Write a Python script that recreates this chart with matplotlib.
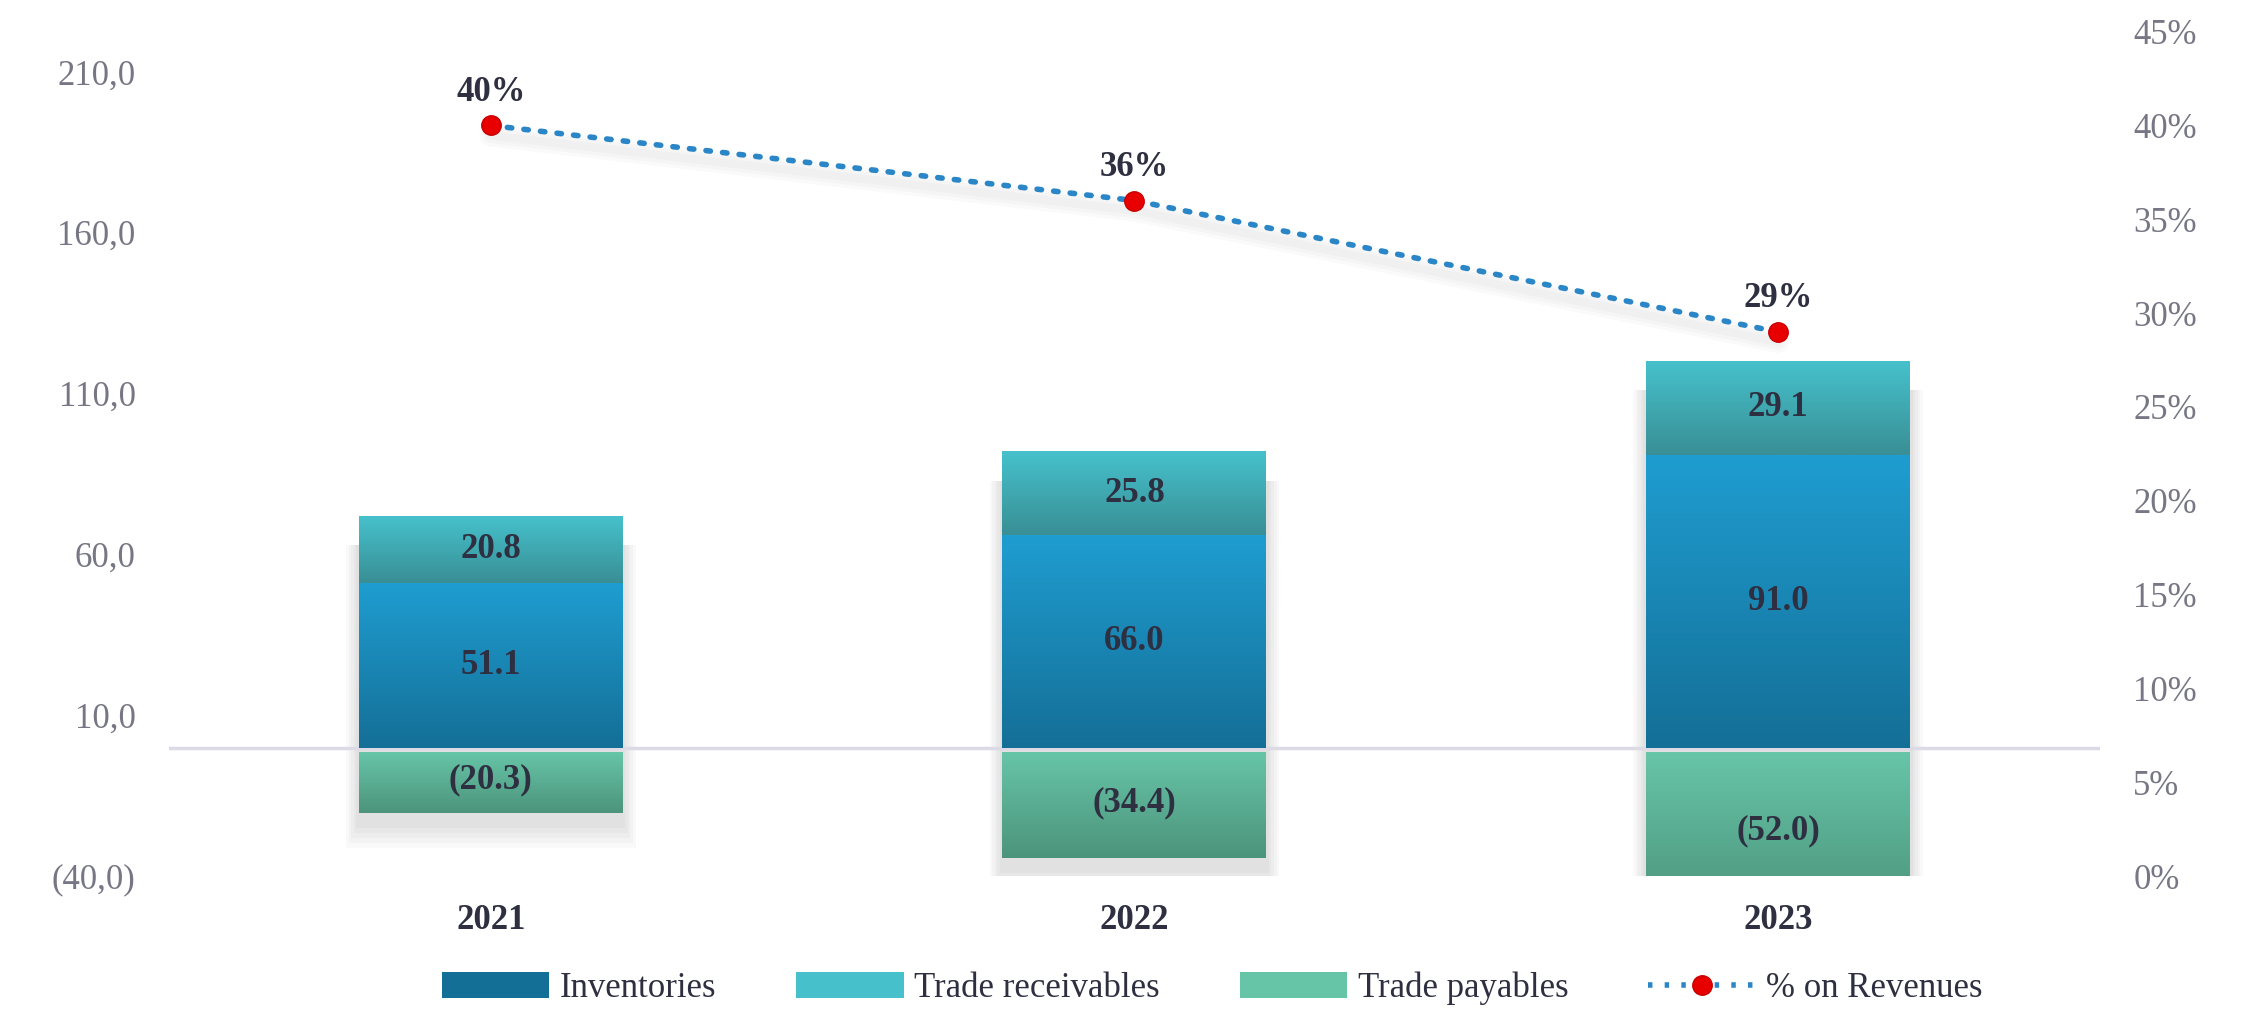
import numpy as np
import matplotlib
matplotlib.use("Agg")
import matplotlib.pyplot as plt
import matplotlib.transforms as mtransforms
from matplotlib.font_manager import FontProperties
from matplotlib.patches import Patch, Rectangle
from matplotlib.lines import Line2D

years = ["2021", "2022", "2023"]
inventories = [51.1, 66.0, 91.0]
receivables = [20.8, 25.8, 29.1]
payables = [-20.3, -34.4, -52.0]
pct_revenues = [0.40, 0.36, 0.29]

left_ticks = [-40, 10, 60, 110, 160, 210]
right_ticks = [0, 0.05, 0.10, 0.15, 0.20, 0.25, 0.30, 0.35, 0.40, 0.45]

FONT = dict(family="Liberation Serif")
FS = 25
DARK = "#2e2f40"
GREY = "#767684"

# top/bottom colours of each gradient fill
inv_grad = ("#1f9dd0", "#146f97")
rec_grad = ("#46c1cc", "#398f95")
pay_grad = ("#67c5a7", "#4c947c")


def fmt_left(v):
    s = f"{abs(v):.1f}".replace(".", ",")
    return f"({s})" if v < 0 else s


def fmt_val(v):
    return f"({abs(v):.1f})" if v < 0 else f"{v:.1f}"


def gradient_bar(ax, x, bottom, height, width, colors):
    c_top = np.array(matplotlib.colors.to_rgb(colors[0]))
    c_bot = np.array(matplotlib.colors.to_rgb(colors[1]))
    t = np.linspace(0, 1, 128)[:, None]
    img = (c_top * (1 - t) + c_bot * t)[:, None, :]
    y0, y1 = bottom, bottom + height
    lo, hi = min(y0, y1), max(y0, y1)
    ax.imshow(img, extent=(x - width / 2, x + width / 2, lo, hi),
              aspect="auto", origin="upper", zorder=3, interpolation="bilinear")


fig = plt.figure(figsize=(22.53, 10.17), dpi=100)
ax = fig.add_axes([0.075, 1 - 610 / 708, 0.857, (610 - 22) / 708])
ax2 = ax.twinx()

x = np.arange(len(years))
w = 0.41

# soft shadows under the stacks
for i in x:
    top = inventories[i] + receivables[i]
    bot = payables[i]
    for k in range(5):
        gx = 0.004 * (5 - k)
        gy = 1.6 * (5 - k)
        ax.add_patch(Rectangle((i - w / 2 - gx, bot - 3 - gy),
                               w + 2 * gx, top - bot - 6 + gy,
                               color="black", alpha=0.022, lw=0, zorder=2))

for i in x:
    gradient_bar(ax, i, 0, inventories[i], w, inv_grad)
    gradient_bar(ax, i, inventories[i], receivables[i], w, rec_grad)
    gradient_bar(ax, i, -1.5, payables[i] + 1.5, w, pay_grad)
    ax.text(i, inventories[i] / 2, fmt_val(inventories[i]), ha="center", va="center",
            fontsize=FS, color=DARK, fontweight="bold", zorder=5, **FONT)
    ax.text(i, inventories[i] + receivables[i] / 2, fmt_val(receivables[i]),
            ha="center", va="center", fontsize=FS, color=DARK, fontweight="bold",
            zorder=5, **FONT)
    ax.text(i, payables[i] / 2, fmt_val(payables[i]), ha="center", va="center",
            fontsize=FS, color=DARK, fontweight="bold", zorder=5, **FONT)

ax.axhline(0, color="#dcdae6", lw=2.5, zorder=2.5)

ax.set_xlim(-0.5, 2.5)
ax.set_ylim(-40, -40 + 588 / 2.24)
ax.set_yticks(left_ticks)
ax.set_yticklabels([fmt_left(v) for v in left_ticks], fontsize=FS, color=GREY, **FONT)
ax.set_xticks(x)
ax.set_xticklabels(years, fontsize=FS, color=DARK, fontweight="bold", **FONT)
ax.tick_params(length=0, pad=20)
ax.tick_params(axis="y", pad=24)

# percentage line with a soft drop shadow
for k, lw in enumerate([16, 11, 6]):
    shadow = mtransforms.offset_copy(ax2.transData, fig=fig, x=0, y=-10, units="dots")
    ax2.plot(x, pct_revenues, color="black", alpha=0.02, lw=lw, transform=shadow,
             solid_capstyle="round", zorder=1)
ax2.plot(x, pct_revenues, color="#2a86c6", lw=4, linestyle=(0, (0.8, 2.2)),
         dash_capstyle="round", zorder=4)
ax2.plot(x, pct_revenues, linestyle="none", marker="o", ms=14,
         markerfacecolor="#e80000", markeredgecolor="#c80000", zorder=5)
for i, p in zip(x, pct_revenues):
    ax2.annotate(f"{p:.0%}", (i, p), xytext=(0, 24), textcoords="offset points",
                 ha="center", va="center", fontsize=FS, color=DARK,
                 fontweight="bold", **FONT)

ax2.set_ylim(0, 0.45)
ax2.set_yticks(right_ticks)
ax2.set_yticklabels([f"{v:.0%}" for v in right_ticks], fontsize=FS, color=GREY, **FONT)
ax2.tick_params(length=0, pad=24)

for a in (ax, ax2):
    for s in a.spines.values():
        s.set_visible(False)
ax.patch.set_visible(False)
# keep the line above the bars
ax2.set_zorder(ax.get_zorder() + 1)
ax2.patch.set_visible(False)

handles = [
    Patch(facecolor=inv_grad[1], edgecolor="none", label="Inventories"),
    Patch(facecolor=rec_grad[0], edgecolor="none", label="Trade receivables"),
    Patch(facecolor=pay_grad[0], edgecolor="none", label="Trade payables"),
    Line2D([0], [0], color="#2a86c6", lw=4, linestyle=(0, (0.8, 2.2)),
           marker="o", ms=14, markerfacecolor="#e80000",
           markeredgecolor="#c80000", label="% on Revenues"),
]
fig.legend(handles=handles, loc="center", bbox_to_anchor=(0.538, 1 - 688 / 708),
           ncol=4, frameon=False, prop=FontProperties(family="Liberation Serif", size=FS),
           handlelength=3.1, handleheight=0.75, columnspacing=2.3, handletextpad=0.3,
           labelcolor=DARK)

fig.savefig("out.png", dpi=100, facecolor="white")
